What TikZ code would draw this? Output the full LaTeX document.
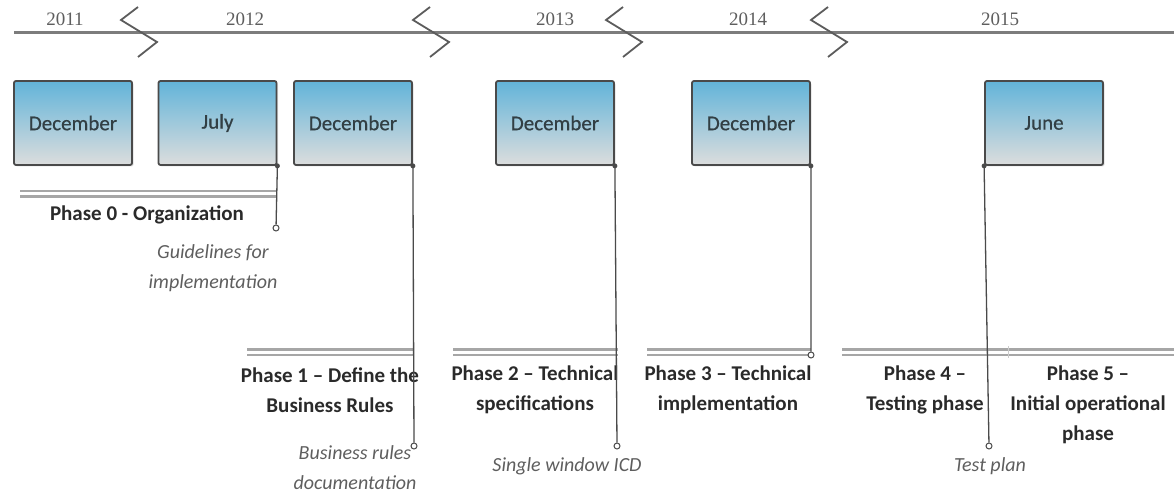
\documentclass[tikz,border=0pt]{standalone}
\usepackage{fontspec}
\setmainfont{Carlito}
\newfontfamily\yearfont{Liberation Serif}
\newfontfamily\monthfont[FakeBold=0.6]{Carlito}
\usetikzlibrary{arrows.meta,shadows}
\definecolor{boxtop}{HTML}{62B4D9}
\definecolor{boxbot}{HTML}{DCDDDD}
\definecolor{boxedge}{HTML}{4A4A4A}
\definecolor{axisgray}{HTML}{7C7C7C}
\definecolor{txt}{HTML}{2A2A2A}
\definecolor{notegray}{HTML}{5E5E5E}
\begin{document}
\begin{tikzpicture}[x=1pt,y=-1pt,
  monthbox/.style={draw=boxedge, line width=1.8pt, rounded corners=2pt,
    top color=boxtop, bottom color=boxbot, minimum width=118pt, minimum height=84pt,
    inner sep=0pt, text=txt!85!boxtop, font=\monthfont\fontsize{21}{26}\selectfont,
    drop shadow={shadow xshift=1.5pt, shadow yshift=-1.5pt, opacity=0.25}},
  year/.style={text=notegray, font=\yearfont\fontsize{19}{22}\selectfont, inner sep=0pt},
  axis/.style={draw=axisgray, line width=3pt},
  brk/.style={draw=boxedge!90, line width=1.8pt, line join=miter},
  phasebar/.style={draw=gray!70, line width=2.8pt, double=white, double distance=3pt},
  phase/.style={align=center, text=txt, inner sep=0pt,
    font=\bfseries\fontsize{21}{30}\selectfont},
  note/.style={align=center, text=notegray, inner sep=0pt,
    font=\itshape\fontsize{20}{30}\selectfont},
  conn/.style={draw=boxedge, line width=1.3pt},
  topdot/.style={circle, fill=boxedge, inner sep=0pt, minimum size=5pt},
  enddot/.style={circle, draw=boxedge, fill=white, line width=1pt, inner sep=0pt, minimum size=6pt}
]
\useasboundingbox (0,0) rectangle (1174,494);

% time axis with year breaks
\draw[axis] (14,33) -- (1174,33);
\foreach \bx in {138,430,623,828}{
  \draw[brk] (\bx,7) -- (\bx-17,20) -- (\bx+19,42) -- (\bx,57);
}
\node[year] (y11) at (65,19) {2011};
\node[year] (y12) at (245,19) {2012};
\node[year] (y13) at (555,19) {2013};
\node[year] (y14) at (748,19) {2014};
\node[year] (y15) at (1000,19) {2015};

% milestone months
\node[monthbox] (b1) at (73,123) {December};
\node[monthbox] (b2) at (217.5,123) {July};
\node[monthbox] (b3) at (353,123) {December};
\node[monthbox] (b4) at (555,123) {December};
\node[monthbox] (b5) at (751,123) {December};
\node[monthbox] (b6) at (1044,123) {June};

% phase bars
\coordinate (p0a) at (20,194);  \coordinate (p0b) at (276,194);
\coordinate (p1a) at (247,352);   \coordinate (p1b) at (414,352);
\coordinate (p2a) at (453,352);   \coordinate (p2b) at (618,352);
\coordinate (p3a) at (647,352);   \coordinate (p3b) at (811,352);
\coordinate (p4a) at (842,352);   \coordinate (p4b) at (1008,352);
\coordinate (p5b) at (1174,352);
\draw[phasebar] (p0a) -- (p0b);
\draw[phasebar] (p1a) -- (p1b);
\draw[phasebar] (p2a) -- (p2b);
\draw[phasebar] (p3a) -- (p3b);
\draw[phasebar] (p4a) -- (p4b);
\draw[phasebar] (p4b) -- (p5b);
\draw[gray!40, line width=0.6pt] (1008,346) -- (1008,358);

% phase titles
\node[phase] (t0) at (147,215) {Phase 0 - Organization};
\node[phase] (t1) at (330,390) {Phase 1 – Define the\\Business Rules};
\node[phase] (t2) at (535,390) {Phase 2 – Technical\\specifications};
\node[phase] (t3) at (728,390) {Phase 3 – Technical\\implementation};
\node[phase] (t4) at (925,390) {Phase 4 –\\Testing phase};
\node[phase] (t5) at (1088,405) {Phase 5 –\\Initial operational\\phase};

% deliverables
\node[note] (n0) at (213,268) {Guidelines for\\implementation};
\node[note] (n1) at (355,468) {Business rules\\documentation};
\node[note] (n2) at (567,466) {Single window ICD};
\node[note] (n3) at (990,466) {Test plan};

% deliverable connectors
\node[enddot] (d0) at (276,228) {};
\node[enddot] (d1) at (414,446) {};
\node[enddot] (d2) at (617,446) {};
\node[enddot] (d3) at (811,355) {};
\node[enddot] (d4) at (989,446) {};
\draw[conn] (b2.south east) -- (d0);
\draw[conn] (b3.south east) -- (d1);
\draw[conn] (b4.south east) -- (d2);
\draw[conn] (b5.south east) -- (d3);
\draw[conn] (b6.south west) -- (d4);
\foreach \b/\a in {b2/south east,b3/south east,b4/south east,b5/south east,b6/south west}{
  \node[topdot] at (\b.\a) {};
}
\end{tikzpicture}
\end{document}
